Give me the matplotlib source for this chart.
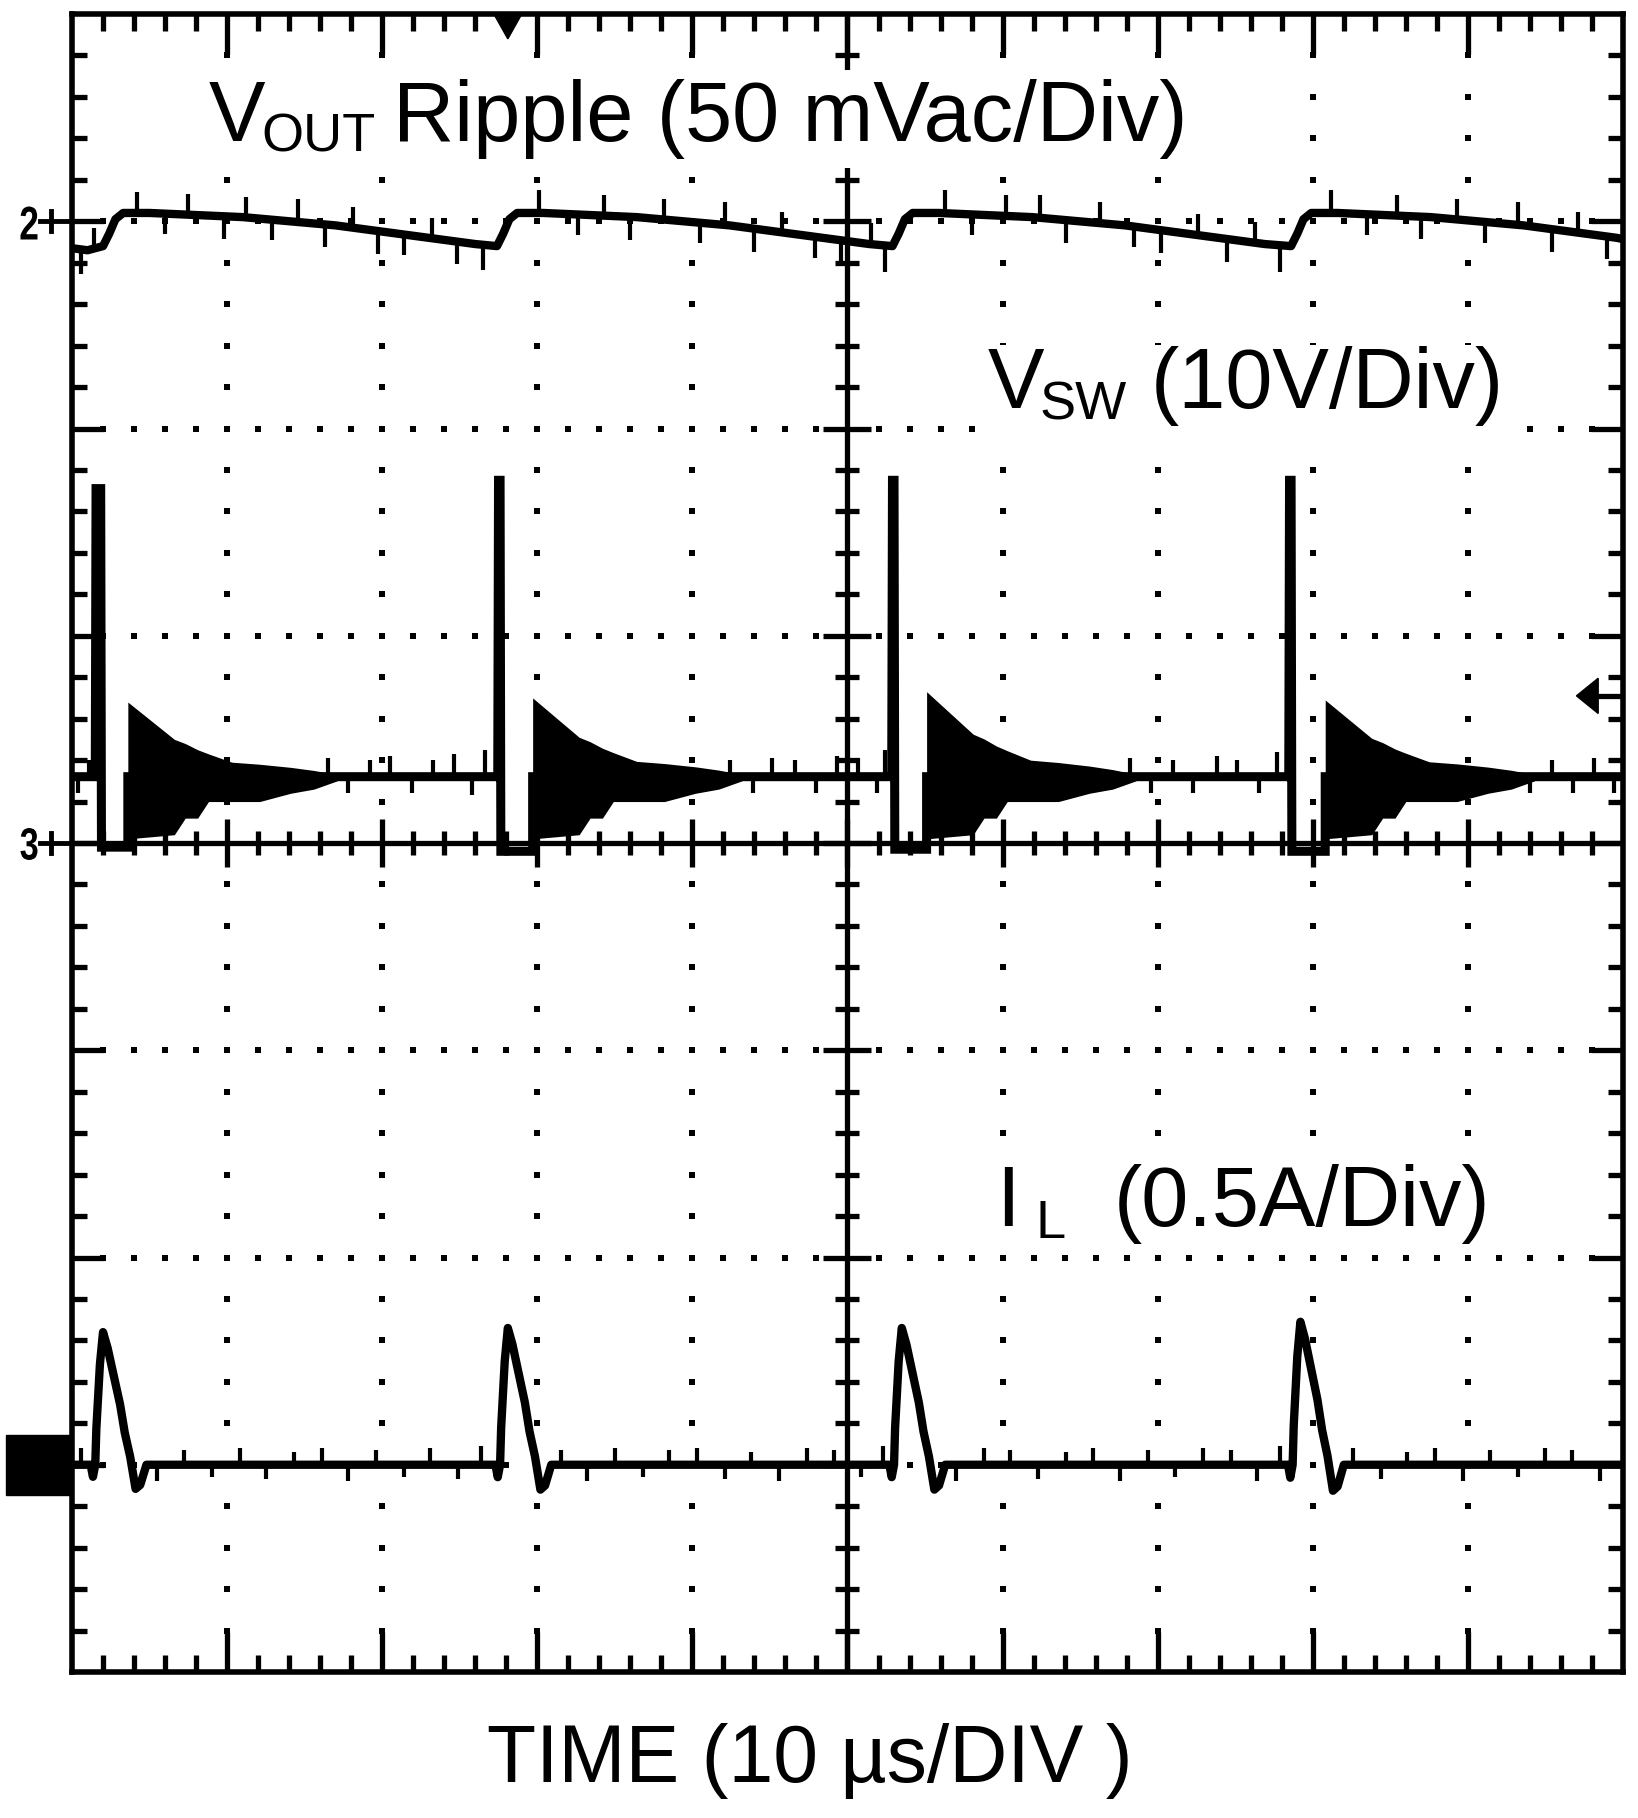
import matplotlib
matplotlib.use("Agg")
import matplotlib.pyplot as plt
import matplotlib.transforms as mtransforms
import numpy as np
from matplotlib.patches import Rectangle, Polygon, PathPatch
from matplotlib.textpath import TextPath
from matplotlib.font_manager import FontProperties

# scope screen: 10 div x 8 div, 10 us/div
# channel ground markers (div from bottom): Vout=7, Vsw=4, IL=1
vout_div, vsw_div, il_div = 7.0, 4.0, 1.0
vout_scale, vsw_scale, il_scale = 50.0, 10.0, 0.5   # mV/div, V/div, A/div

# Vout ripple (us, mV)
vout_t = [0.0, 1.0, 2.0, 2.4, 2.8, 3.3, 5.0, 8.0, 11.0, 14.0, 17.0, 20.0, 23.0, 26.0, 27.4,
          27.8, 28.2, 28.7, 30.4, 33.4, 36.4, 39.4, 42.4, 45.4, 48.4, 51.4, 52.9,
          53.3, 53.7, 54.2, 55.9, 58.9, 61.9, 64.9, 67.9, 70.9, 73.9, 76.9, 78.6,
          79.0, 79.4, 79.9, 81.6, 84.6, 87.6, 90.6, 93.6, 96.6, 99.6, 100.0]
vout_mv = [-6.5, -7.0, -6.0, -3.0, 0.5, 2.0, 2.0, 1.5, 1.0, 0.0, -1.0, -2.5, -4.0, -5.5, -6.0,
           -3.0, 0.5, 2.0, 2.0, 1.5, 1.0, 0.0, -1.0, -2.5, -4.0, -5.5, -6.0,
           -3.0, 0.5, 2.0, 2.0, 1.5, 1.0, 0.0, -1.0, -2.5, -4.0, -5.5, -6.0,
           -3.0, 0.5, 2.0, 2.0, 1.5, 1.0, 0.0, -1.0, -2.5, -4.0, -4.3]
# noise glitches on Vout (us, mV offset)
vout_gl_t = [0.6, 1.4, 4.2, 6.0, 7.5, 9.8, 11.2, 12.9, 14.6, 16.3, 18.1, 19.7, 21.4, 23.2, 24.8, 26.5,
             30.1, 32.6, 34.3, 36.0, 38.2, 40.5, 42.1, 44.0, 45.8, 47.9, 49.6, 51.5, 52.4,
             56.3, 58.0, 60.2, 62.4, 64.1, 66.3, 68.5, 70.2, 72.6, 74.5, 76.3, 77.9,
             81.2, 83.5, 85.4, 87.0, 89.3, 91.1, 93.2, 95.4, 97.1, 99.0]
vout_gl_mv = [-6, 5, 5, -5, 5, -5.5, 5, -5, 5.5, -5.5, 5, -5.5, -5, 5, -5.5, -6,
              5.5, -5, 5, -5.5, 5, -5, 5.5, -5.5, 5, -5, -5.5, 5, -6.5,
              5.5, -5, 5, 5.5, -5.5, 5, -5, -5.5, 5, -5.5, 5, -6.5,
              5.5, -5, 5, -5.5, 5, -5, 5.5, -5.5, 5, -5.5]

# Vsw (V)
sw_base = 3.2
sw_spike_t = [1.55, 27.5, 52.9, 78.5]
sw_spike_w = [0.3, 0.1, 0.1, 0.1]
sw_spike_v = [17.1, 17.5, 17.5, 17.5]
sw_low_v = [-0.2, -0.4, -0.3, -0.4]
sw_ring_t = [3.6, 29.7, 55.1, 80.8]
sw_ring_pk = [6.8, 7.0, 7.3, 6.9]
ring_dt = [0.0, 1.5, 3.0, 3.7, 4.5, 5.2, 6.7, 8.5, 10.5, 12.0, 13.5]
ring_hi = [6.8, 5.9, 5.0, 4.8, 4.5, 4.3, 3.9, 3.8, 3.65, 3.5, 3.3]
ring_lo = [0.2, 0.3, 0.4, 1.2, 1.2, 2.0, 2.0, 2.0, 2.4, 2.6, 3.0]
sw_gl_t = [0.4, 1.1, 16.5, 17.8, 19.2, 20.5, 21.9, 23.3, 24.6, 25.8, 26.6,
           42.4, 43.9, 45.1, 46.6, 48.0, 49.3, 50.7, 51.9, 52.4,
           68.2, 69.6, 71.0, 72.3, 73.8, 75.1, 76.5, 77.7,
           94.0, 95.4, 96.8, 98.1, 99.4]
sw_gl_v = [-0.8, 0.8, 0.9, -0.8, 0.8, 1.0, -0.8, 0.8, 1.1, -0.9, 1.3,
           0.8, -0.8, 0.9, 0.8, -0.8, 1.0, 0.9, -0.8, 1.3,
           0.9, -0.8, 0.8, -0.8, 1.0, 0.8, -0.8, 1.2,
           -0.8, 0.8, -0.8, 0.9, -0.8]

# inductor current (A)
il_peak_t = [2.0, 28.1, 53.5, 79.2]
il_peak_a = [0.32, 0.33, 0.33, 0.345]
il_dt = [-0.8, -0.65, -0.5, -0.43, -0.2, 0.0, 0.3, 0.7, 1.1, 1.4, 1.75, 2.1, 2.4, 2.8]
il_shape = [0.0, -0.03, 0.0, 0.09, 0.25, 0.33, 0.29, 0.22, 0.15, 0.08, 0.02, -0.06, -0.05, 0.0]
il_gl_t = [0.6, 5.5, 7.2, 9.0, 10.8, 12.5, 14.3, 16.1, 17.8, 19.6, 21.4, 23.1, 24.9, 26.4,
           31.5, 33.2, 35.0, 36.8, 38.5, 40.3, 42.1, 43.8, 45.6, 47.4, 49.1, 50.9, 52.3,
           57.0, 58.8, 60.5, 62.3, 64.1, 65.8, 67.6, 69.4, 71.1, 72.9, 74.7, 76.4, 77.9,
           82.6, 84.4, 86.1, 87.9, 89.7, 91.4, 93.2, 95.0, 96.7, 98.5]
il_gl_a = [0.04, -0.04, 0.035, -0.03, 0.04, -0.035, 0.03, 0.04, -0.04, 0.035, -0.03, 0.04, -0.035, 0.045,
           0.035, -0.04, 0.04, -0.03, 0.035, 0.04, -0.035, 0.03, -0.04, 0.04, 0.035, -0.03, 0.045,
           -0.04, 0.04, 0.035, -0.035, 0.03, 0.04, -0.04, 0.035, -0.03, 0.04, 0.035, -0.04, 0.045,
           0.04, -0.035, 0.03, 0.04, -0.04, 0.035, -0.03, 0.04, 0.035, -0.04]

trig_t = 28.1
trig_level = 4.71

plt.rcParams['font.family'] = ['Liberation Sans', 'DejaVu Sans']

W, H = 1638, 1818
fig = plt.figure(figsize=(W/100, H/100), dpi=100)
ax = fig.add_axes([72/W, 1-1672/H, 1551/W, 1658/H])
ax.set_xlim(0, 100)
ax.set_ylim(0, 8)
ax.set_xticks([])
ax.set_yticks([])
for s in ax.spines.values():
    s.set_linewidth(4.0)
    s.set_zorder(6)

px = 100/1551.0   # us per pixel
py = 8/1658.0     # div per pixel
lw_t = 3.8

# dotted graticule
for yy in [1, 2, 3, 5, 6, 7]:
    xs = [2*k for k in range(1, 50) if 2*k != 50]
    ax.plot(xs, [yy]*len(xs), 's', color='k', ms=3.8, mew=0)
for xx in [10, 20, 30, 40, 60, 70, 80, 90]:
    ys = [0.2*k for k in range(1, 40) if k != 20]
    ax.plot([xx]*len(ys), ys, 's', color='k', ms=3.8, mew=0)

# centre cross and edge ticks
ax.axhline(4, color='k', lw=lw_t)
ax.axvline(50, color='k', lw=lw_t)
for k in range(1, 50):
    x = 2*k
    h = 24 if k % 5 == 0 else 12
    ax.plot([x, x], [4-h*py, 4+h*py], color='k', lw=lw_t, solid_capstyle='butt')
    ht = 40 if k % 5 == 0 else 17
    ax.plot([x, x], [8, 8-ht*py], color='k', lw=lw_t, solid_capstyle='butt')
    ax.plot([x, x], [0, ht*py], color='k', lw=lw_t, solid_capstyle='butt')
for k in range(1, 40):
    y = 0.2*k
    h = 24 if k % 5 == 0 else 12
    ax.plot([50-h*px, 50+h*px], [y, y], color='k', lw=lw_t, solid_capstyle='butt')
    hl = 32 if k % 5 == 0 else 15
    ax.plot([0, hl*px], [y, y], color='k', lw=lw_t, solid_capstyle='butt')
    ax.plot([100, 100-hl*px], [y, y], color='k', lw=lw_t, solid_capstyle='butt')


def glitches(ts, y0, dy):
    for t, a, d in zip(ts, y0, dy):
        ax.plot([t, t], [a, a + d], color='k', lw=3.0, solid_capstyle='butt', zorder=4)


# Vout trace
vout_y = [vout_div + v/vout_scale for v in vout_mv]
ax.plot(vout_t, vout_y, color='k', lw=6.0, zorder=4)
glitches(vout_gl_t, np.interp(vout_gl_t, vout_t, vout_y), [m/vout_scale for m in vout_gl_mv])

# Vsw trace
sw_t, sw_v = [0.0], [sw_base]
for i in range(len(sw_spike_t)):
    ts = sw_spike_t[i]
    sw_t += [ts - 0.05, ts, ts + sw_spike_w[i], ts + sw_spike_w[i] + 0.05, sw_ring_t[i], sw_ring_t[i]]
    sw_v += [sw_base, sw_spike_v[i], sw_spike_v[i], sw_low_v[i], sw_low_v[i], sw_base]
sw_t.append(100.0)
sw_v.append(sw_base)
ax.plot(sw_t, [vsw_div + v/vsw_scale for v in sw_v], color='k', lw=6.5, zorder=4,
        solid_joinstyle='miter')
for i in range(len(sw_ring_t)):
    k = (sw_ring_pk[i] - sw_base)/(ring_hi[0] - sw_base)
    tt = [sw_ring_t[i] + d for d in ring_dt]
    hi = [vsw_div + (sw_base + (h - sw_base)*k)/vsw_scale for h in ring_hi]
    lo = [vsw_div + l/vsw_scale for l in ring_lo]
    ax.fill_between(tt, lo, hi, color='k', lw=0, zorder=4)
sb = vsw_div + sw_base/vsw_scale
glitches(sw_gl_t, [sb]*len(sw_gl_t), [v/vsw_scale for v in sw_gl_v])

# IL trace
il_t, il_a = [0.0], [0.0]
for i in range(len(il_peak_t)):
    sc = il_peak_a[i]/0.33
    il_t += [il_peak_t[i] + d for d in il_dt]
    il_a += [a*sc for a in il_shape]
il_t.append(100.0)
il_a.append(0.0)
ax.plot(il_t, [il_div + a/il_scale for a in il_a], color='k', lw=6.0, zorder=4)
glitches(il_gl_t, [il_div]*len(il_gl_t), [a/il_scale for a in il_gl_a])


# channel markers (narrow bold digits)
def digit(s, cx, cy, w, h):
    tp = TextPath((0, 0), s, size=100, prop=FontProperties(family='Liberation Sans', weight='bold'))
    e = tp.get_extents()
    tr = (mtransforms.Affine2D().translate(-(e.x0 + e.x1)/2, -(e.y0 + e.y1)/2)
          .scale(w/e.width, h/e.height).translate(cx, H - cy))
    fig.add_artist(PathPatch(tp, transform=tr, color='k', lw=0))


digit("2", 29, 223, 17, 33)
digit("3", 29, 844, 17, 32)
for yy in [vout_div, vsw_div]:
    ax.plot([-32*px, 0], [yy, yy], color='k', lw=3.5, clip_on=False)
    ax.plot([-21*px, -21*px], [yy - 10*py, yy + 10*py], color='k', lw=3.5, clip_on=False)
ax.add_patch(Rectangle((-4.26, 0.854), 4.26, 0.29, color='k', clip_on=False, zorder=6))

# trigger position / level
ax.add_patch(Polygon([[trig_t - 0.9, 8], [trig_t + 0.9, 8], [trig_t, 7.88]], color='k',
                     zorder=6))
ax.add_patch(Polygon([[97.0, trig_level], [98.4, trig_level + 0.085], [98.4, trig_level - 0.085]],
                     color='k', zorder=6))
ax.plot([98.2, 100], [trig_level, trig_level], color='k', lw=3.8)


# labels, placed in output pixels (x from left, baseline y from top)
def blank(x0, y0, x1, y1):
    fig.add_artist(Rectangle((x0/W, 1 - y1/H), (x1 - x0)/W, (y1 - y0)/H,
                             transform=fig.transFigure, facecolor='white', edgecolor='none',
                             zorder=1))


def put(x, y, s, size):
    fig.text(x/W, 1 - y/H, s, fontsize=size, ha='left', va='baseline', zorder=2)


blank(200, 70, 1198, 168)
blank(978, 345, 1506, 436)
blank(990, 1160, 1490, 1250)

fs, fsub = 61, 39
put(209, 141, "V", fs)
put(261, 152, "OUT", fsub)
put(393, 141, "Ripple (50 mVac/Div)", fs)
put(988, 408, "V", fs)
put(1040, 420, "SW", fsub)
put(1151, 408, "(10V/Div)", fs)
put(996, 1226, "I", fs)
put(1036, 1238, "L", fsub)
put(1114, 1226, "(0.5A/Div)", fs)
put(487, 1782, "TIME (10 \u00b5s/DIV )", 58)

fig.savefig("out.png", dpi=100)
